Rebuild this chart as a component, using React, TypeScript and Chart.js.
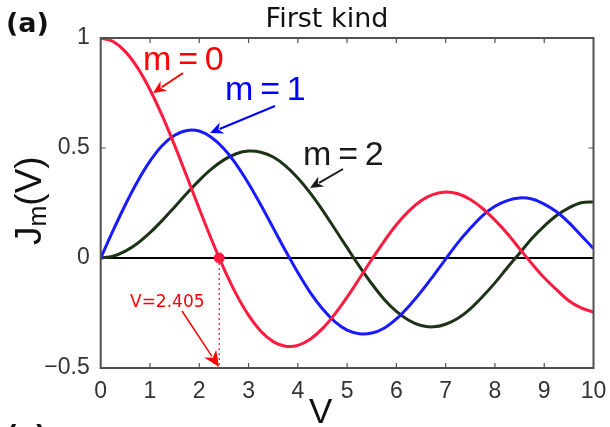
import React, { useEffect, useRef } from "react";
import { Chart, registerables } from "chart.js";

Chart.register(...registerables);

const vValues = [0, 0.25, 0.5, 0.75, 1, 1.25, 1.5, 1.75, 2, 2.25, 2.5, 2.75, 3, 3.25, 3.5, 3.75, 4, 4.25, 4.5, 4.75, 5, 5.25, 5.5, 5.75, 6, 6.25, 6.5, 6.75, 7, 7.25, 7.5, 7.75, 8, 8.25, 8.5, 8.75, 9, 9.25, 9.5, 9.75, 10];
const j0 = [1, 0.984, 0.938, 0.864, 0.765, 0.646, 0.512, 0.369, 0.224, 0.083, -0.048, -0.164, -0.26, -0.333, -0.38, -0.401, -0.397, -0.369, -0.321, -0.255, -0.178, -0.093, -0.007, 0.076, 0.151, 0.213, 0.26, 0.289, 0.3, 0.292, 0.266, 0.225, 0.172, 0.111, 0.042, -0.026, -0.09, -0.144, -0.194, -0.227, -0.246];
const j1 = [0, 0.124, 0.242, 0.349, 0.44, 0.511, 0.558, 0.58, 0.577, 0.548, 0.497, 0.426, 0.339, 0.241, 0.137, 0.033, -0.066, -0.156, -0.231, -0.289, -0.328, -0.344, -0.341, -0.319, -0.277, -0.22, -0.154, -0.081, -0.005, 0.07, 0.135, 0.193, 0.235, 0.261, 0.273, 0.268, 0.245, 0.21, 0.161, 0.102, 0.043];
const j2 = [0, 0.008, 0.031, 0.067, 0.115, 0.171, 0.232, 0.294, 0.353, 0.405, 0.446, 0.474, 0.486, 0.481, 0.459, 0.419, 0.364, 0.296, 0.218, 0.133, 0.047, -0.038, -0.117, -0.187, -0.243, -0.283, -0.307, -0.313, -0.301, -0.274, -0.231, -0.175, -0.113, -0.044, 0.022, 0.089, 0.145, 0.193, 0.228, 0.251, 0.255];
const zeroV = 2.405;
const xTicks = [0, 1, 2, 3, 4, 5, 6, 7, 8, 9, 10];
const yTicks = [-0.5, 0, 0.5, 1];

const RED = "#ff1a40";
const BLUE = "#1a1aff";
const GREEN = "#1d3318";
const AXIS = "#505050";

function arrow(ctx: CanvasRenderingContext2D, x1: number, y1: number, x2: number, y2: number, color: string, lw: number, head: number) {
  const a = Math.atan2(y2 - y1, x2 - x1);
  ctx.save();
  ctx.strokeStyle = color;
  ctx.fillStyle = color;
  ctx.lineWidth = lw;
  ctx.beginPath();
  ctx.moveTo(x1, y1);
  ctx.lineTo(x2 - Math.cos(a) * head * 0.8, y2 - Math.sin(a) * head * 0.8);
  ctx.stroke();
  ctx.beginPath();
  ctx.moveTo(x2, y2);
  ctx.lineTo(x2 - head * Math.cos(a) + head * 0.45 * Math.sin(a), y2 - head * Math.sin(a) - head * 0.45 * Math.cos(a));
  ctx.lineTo(x2 - head * 0.7 * Math.cos(a), y2 - head * 0.7 * Math.sin(a));
  ctx.lineTo(x2 - head * Math.cos(a) - head * 0.45 * Math.sin(a), y2 - head * Math.sin(a) + head * 0.45 * Math.cos(a));
  ctx.closePath();
  ctx.fill();
  ctx.restore();
}

const framePlugin = {
  id: "frame",
  beforeDatasetsDraw(chart: any) {
    const { ctx, chartArea, scales } = chart;
    const { left, right, top, bottom } = chartArea;
    ctx.save();
    ctx.strokeStyle = AXIS;
    ctx.lineWidth = 1.2;
    xTicks.forEach((t) => {
      if (t === 0 || t === 10) return;
      const x = scales.x.getPixelForValue(t);
      ctx.beginPath();
      ctx.moveTo(x, bottom);
      ctx.lineTo(x, bottom - 5);
      ctx.moveTo(x, top);
      ctx.lineTo(x, top + 5);
      ctx.stroke();
    });
    yTicks.forEach((t) => {
      if (t === -0.5 || t === 1) return;
      const y = scales.y.getPixelForValue(t);
      ctx.beginPath();
      ctx.moveTo(left, y);
      ctx.lineTo(left + 5, y);
      ctx.moveTo(right, y);
      ctx.lineTo(right - 5, y);
      ctx.stroke();
    });
    ctx.restore();
  },
  afterDatasetsDraw(chart: any) {
    const { ctx, chartArea } = chart;
    const { left, right, top, bottom } = chartArea;
    ctx.save();
    ctx.strokeStyle = AXIS;
    ctx.lineWidth = 2;
    ctx.strokeRect(left, top, right - left, bottom - top);

    // panel label
    ctx.fillStyle = "#111";
    ctx.textBaseline = "alphabetic";
    ctx.textAlign = "left";
    ctx.font = "bold 27px 'DejaVu Sans'";
    ctx.fillText("(a)", 6, 32);
    ctx.fillText("(c)", 6, 444);

    // title
    ctx.textAlign = "center";
    ctx.font = "27px 'DejaVu Sans'";
    ctx.fillText("First kind", 327, 27);

    // x title
    ctx.textAlign = "left";
    ctx.font = "35px 'Liberation Sans'";
    ctx.fillText("V", 309, 423);

    // y title J_m(V)
    ctx.save();
    ctx.translate(41, 245);
    ctx.rotate(-Math.PI / 2);
    ctx.font = "37px 'Liberation Sans'";
    ctx.fillText("J", 0, 0);
    let w = ctx.measureText("J").width;
    ctx.font = "25px 'Liberation Sans'";
    ctx.fillText("m", w, 5);
    w += ctx.measureText("m").width;
    ctx.font = "37px 'Liberation Sans'";
    ctx.fillText("(V)", w, 0);
    ctx.restore();

    // labels
    ctx.font = "34px 'Liberation Sans'";
    ctx.fillStyle = "#ff0000";
    ctx.fillText("m\u2009=\u20090", 143, 70);
    ctx.fillStyle = "#0000ff";
    ctx.fillText("m\u2009=\u20091", 225, 100);
    ctx.fillStyle = "#1a1a1a";
    ctx.fillText("m\u2009=\u20092", 303, 165);

    arrow(ctx, 183, 73, 153, 93, "#ff0000", 2, 13);
    arrow(ctx, 275, 106, 210, 133, "#0000ff", 2, 13);
    arrow(ctx, 343, 169, 310, 188, "#1a1a1a", 2, 13);

    ctx.font = "17px 'DejaVu Sans'";
    ctx.fillStyle = "#ff0000";
    ctx.fillText("V=2.405", 130, 307);
    arrow(ctx, 182, 311, 219, 367, "#ff0000", 1.5, 16);
    ctx.restore();
  },
};

export default function App() {
  const ref = useRef<HTMLCanvasElement | null>(null);
  useEffect(() => {
    if (!ref.current) return;
    const pts = (ys: number[]) => vValues.map((x, i) => ({ x, y: ys[i] }));
    const chart = new Chart(ref.current, {
      type: "line",
      data: {
        datasets: [
          { data: [{ x: zeroV, y: 0 }], showLine: false, pointRadius: 5, pointBackgroundColor: RED, pointBorderColor: RED, borderColor: RED },
          { data: pts(j0), borderColor: RED, borderWidth: 3, pointRadius: 0, tension: 0.35 },
          { data: pts(j1), borderColor: BLUE, borderWidth: 3, pointRadius: 0, tension: 0.35 },
          { data: pts(j2), borderColor: GREEN, borderWidth: 3, pointRadius: 0, tension: 0.35 },
          { data: [{ x: zeroV, y: 0 }, { x: zeroV, y: -0.5 }], borderColor: RED, borderWidth: 1.3, borderDash: [2, 3], pointRadius: 0 },
          { data: [{ x: 0, y: 0 }, { x: 10, y: 0 }], borderColor: "#000", borderWidth: 2, pointRadius: 0 },
        ],
      },
      options: {
        responsive: false,
        maintainAspectRatio: false,
        animation: false,
        layout: { padding: { left: 0, top: 38, right: 4, bottom: 0 } },
        plugins: { legend: { display: false }, tooltip: { enabled: false }, title: { display: false } },
        scales: {
          x: {
            type: "linear",
            min: 0,
            max: 10,
            afterFit: (s: any) => { s.height = 59; s.paddingRight = 16.5; s.paddingLeft = 0; },
            afterBuildTicks: (s: any) => { s.ticks = xTicks.map((v) => ({ value: v })); },
            grid: { display: false, drawTicks: false },
            border: { display: false },
            ticks: { color: "#333", font: { family: "'Liberation Sans'", size: 23 }, padding: 10, maxRotation: 0, callback: (v: any) => String(v) },
          },
          y: {
            type: "linear",
            min: -0.5,
            max: 1,
            afterFit: (s: any) => { s.width = 100.7; },
            afterBuildTicks: (s: any) => { s.ticks = yTicks.map((v) => ({ value: v })); },
            grid: { display: false, drawTicks: false },
            border: { display: false },
            ticks: { color: "#333", font: { family: "'Liberation Sans'", size: 23 }, padding: 11, callback: (v: any) => (v < 0 ? "\u2212" + String(-v) : String(v)) },
          },
        },
      },
      plugins: [framePlugin],
    });
    return () => chart.destroy();
  }, []);
  return (
    <div style={{ position: "absolute", left: 0, top: 0, width: 610, height: 427, background: "#fff" }}>
      <canvas ref={ref} width={610} height={427} />
    </div>
  );
}
